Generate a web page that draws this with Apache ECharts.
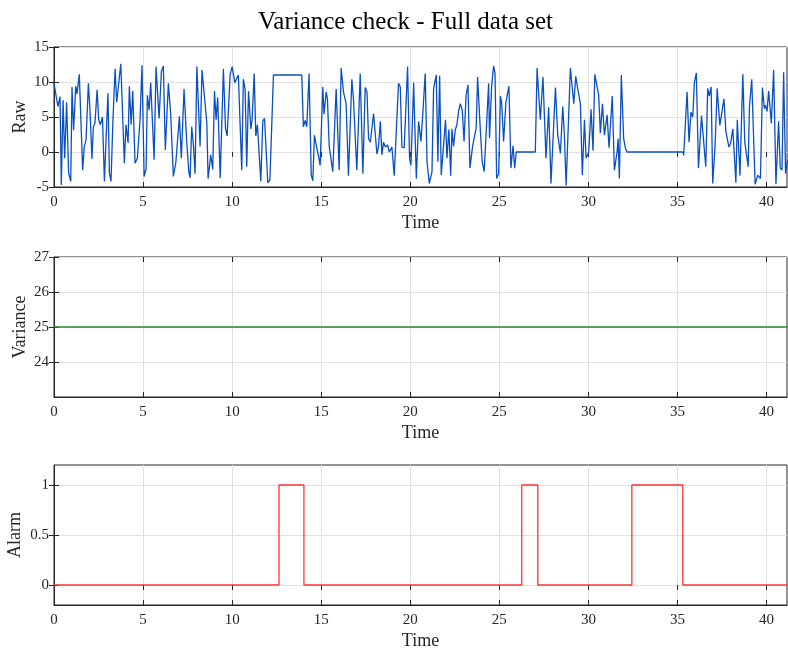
<!DOCTYPE html>
<html>
<head>
<meta charset="utf-8">
<script src="https://cdn.jsdelivr.net/npm/echarts@6.0.0/dist/echarts.min.js"></script>
<style>
  html, body { margin: 0; padding: 0; background: #fff; }
  #chart { width: 788px; height: 653px; }
</style>
</head>
<body>
<div id="chart"></div>
<script>
// raw signal (time, value)
const rawTime = [
  0.00, 0.11, 0.22, 0.34, 0.41, 0.51, 0.60, 0.71, 0.82, 0.94, 1.01, 1.10, 1.22, 1.29, 1.42, 1.61, 1.70, 1.80, 1.93, 2.02,
  2.13, 2.21, 2.30, 2.42, 2.51, 2.60, 2.72, 2.83, 2.92, 3.03, 3.11, 3.20, 3.31, 3.43, 3.52, 3.75, 3.84, 3.95, 4.04, 4.16,
  4.23, 4.33, 4.42, 4.55, 4.68, 4.83, 4.94, 5.06, 5.17, 5.24, 5.34, 5.43, 5.62, 5.73, 5.90, 6.03, 6.14, 6.25, 6.42, 6.55,
  6.70, 6.84, 6.95, 7.04, 7.15, 7.30, 7.45, 7.57, 7.64, 7.73, 7.83, 7.92, 8.02, 8.20, 8.31, 8.58, 8.65, 8.80, 8.91, 9.01,
  9.10, 9.19, 9.33, 9.51, 9.63, 9.72, 9.89, 10.00, 10.15, 10.26, 10.35, 10.54, 10.63, 10.73, 10.82, 10.92, 11.05, 11.12, 11.24, 11.33,
  11.42, 11.61, 11.72, 11.82, 12.00, 12.12, 12.32, 13.91, 14.00, 14.10, 14.19, 14.32, 14.44, 14.53, 14.62, 14.72, 14.85, 14.94, 15.09, 15.16,
  15.28, 15.35, 15.45, 15.54, 15.65, 15.84, 16.01, 16.12, 16.25, 16.40, 16.53, 16.72, 16.81, 16.91, 17.00, 17.19, 17.34, 17.47, 17.57, 17.66,
  17.76, 17.94, 18.13, 18.22, 18.32, 18.41, 18.50, 18.60, 18.73, 18.82, 18.97, 19.10, 19.34, 19.44, 19.53, 19.66, 19.76, 19.85, 19.96, 20.04,
  20.19, 20.34, 20.47, 20.60, 20.71, 20.84, 20.94, 21.07, 21.22, 21.31, 21.41, 21.46, 21.55, 21.65, 21.74, 21.98, 22.06, 22.17, 22.27, 22.34,
  22.43, 22.53, 22.62, 22.71, 22.81, 22.92, 23.02, 23.13, 23.24, 23.35, 23.50, 23.59, 23.70, 23.78, 23.93, 24.04, 24.15, 24.40, 24.45, 24.57,
  24.68, 24.76, 24.85, 24.96, 25.06, 25.13, 25.24, 25.37, 25.54, 25.65, 25.77, 25.86, 25.95, 27.02, 27.12, 27.30, 27.45, 27.62, 27.77, 27.90,
  27.98, 28.15, 28.28, 28.43, 28.56, 28.65, 28.75, 28.99, 29.08, 29.18, 29.29, 29.40, 29.55, 29.66, 29.78, 29.87, 30.02, 30.15, 30.26, 30.36,
  30.45, 30.58, 30.67, 30.79, 30.90, 31.05, 31.16, 31.23, 31.34, 31.46, 31.61, 31.67, 31.74, 31.85, 31.98, 32.08, 32.17, 35.32, 35.35, 35.54,
  35.65, 35.76, 35.86, 35.95, 36.06, 36.18, 36.35, 36.59, 36.70, 36.79, 36.89, 36.98, 37.11, 37.23, 37.38, 37.46, 37.61, 37.72, 37.89, 37.98,
  38.11, 38.21, 38.28, 38.36, 38.51, 38.67, 38.78, 38.97, 39.04, 39.17, 39.36, 39.51, 39.66, 39.77, 39.88, 39.94, 40.03, 40.12, 40.27, 40.40,
  40.53, 40.68, 40.77, 40.87, 40.96, 41.07, 41.18
];
const rawValue = [
  9.8, 10.0, 6.5, 7.9, -4.7, 7.4, -0.9, 7.1, -3.0, -4.2, 9.3, 3.1, 9.4, 8.3, 11.1, -2.6, 0.8, 1.7, 9.8, 6.0,
  -1.0, 3.6, 4.1, 8.9, 4.6, 3.9, 5.0, -4.2, 1.7, 8.4, -3.0, -4.2, 4.6, 11.9, 7.1, 12.6, 12.4, -1.6, 3.9, 1.3,
  9.4, 3.9, 8.7, -1.6, -0.9, 4.6, 12.4, -3.5, -2.4, 8.1, 6.0, 9.9, -1.1, 12.2, 4.8, 11.5, 12.3, 0.3, 9.8, 5.5,
  -3.5, -1.5, -1.4, 5.1, -0.9, 9.0, 1.5, -2.9, -3.7, 3.6, 0.9, -3.1, 12.2, 0.8, 11.7, 4.1, -3.8, -0.4, -2.5, 8.7,
  4.6, 7.8, -3.7, 11.9, 3.3, 2.3, 11.1, 12.2, 9.9, 9.9, 11.0, -2.6, 10.4, 8.9, -2.1, 8.7, 3.3, 4.6, 11.2, 2.3,
  3.9, -4.2, 4.4, 4.8, -4.4, -4.0, 11.0, 11.0, 3.6, 4.5, 3.6, 11.2, -3.3, -4.1, 2.4, 1.0, -0.6, -1.9, 9.3, 5.4,
  8.6, 7.6, 0.8, 0.8, -2.8, 9.0, -2.6, 12.0, 8.6, 6.9, -3.4, 10.4, 7.6, 7.4, -2.6, 11.2, -3.1, 9.2, 8.6, 1.9,
  1.4, 5.5, -0.3, 0.8, 4.4, -0.4, 1.4, 0.7, 1.0, 0.0, 0.7, -3.4, 9.8, 9.3, 0.7, 0.6, 0.5, 12.2, -0.9, -1.9,
  9.9, -3.8, 4.4, 1.5, 5.7, 11.2, -1.4, -4.5, -2.8, 9.1, 9.1, 11.0, -1.4, 10.9, -3.3, 4.6, -0.9, 3.2, -3.4, 3.3,
  0.8, 3.2, 3.9, 5.8, 6.9, 6.0, 1.5, 8.0, 9.6, -2.3, 0.8, 2.0, 3.4, 10.7, 3.3, -1.4, -2.8, 9.8, 2.0, 9.4,
  12.3, 11.2, -3.8, -3.1, 8.0, 7.1, 1.5, 7.1, 9.4, -2.3, 0.9, -2.3, 0.0, 0.0, 12.0, 4.6, 10.7, -0.9, 6.4, -4.5,
  -4.6, 9.2, 2.4, -0.2, 6.5, 2.6, -4.8, 12.0, 12.0, 6.9, 10.8, 9.1, 6.9, -3.3, 4.6, -0.9, 0.0, 6.1, 0.2, 11.1,
  11.2, 8.1, 2.7, 6.9, 2.4, 5.3, 0.6, 0.5, 8.0, -2.6, 0.0, 1.9, -3.8, 11.0, 1.9, 0.5, 0.0, 0.0, -0.5, 8.6,
  1.4, 5.7, 5.0, 9.9, 11.3, -2.3, 5.2, -2.1, 9.1, 8.0, 9.3, -4.5, 0.8, 9.1, 3.8, 3.9, 7.6, 2.9, 0.7, 1.2,
  3.3, 3.3, -4.4, 4.6, -3.4, 11.1, 1.4, -2.1, 6.4, 10.4, -4.6, -3.3, -3.8, 9.2, 6.2, 6.7, 5.8, 8.7, 4.1, 11.7,
  -4.6, 4.4, -2.3, -2.6, 11.4, -3.1, -1.2
];

// variance (flat)
const varTime = [0, 41.2];
const varValue = [25, 25];

// alarm state, holds until next time
const alarmTime = [0, 12.63, 14.03, 26.26, 27.16, 32.44, 35.30, 41.2];
const alarmValue = [0, 1, 0, 1, 0, 1, 0, 0];

const xTicks = [0, 5, 10, 15, 20, 25, 30, 35, 40];
const rawTicks = [-5, 0, 5, 10, 15];
const varTicks = [24, 25, 26, 27];
const alarmTicks = [0, 0.5, 1];

const FONT = "Liberation Serif";
const INK = "#262626";
const X_MAX = 41.15;

const grids = [0, 1, 2].map((i) => ({
  left: 54,
  top: [47, 257, 465][i],
  width: 733,
  height: 140,
  show: true,
  borderColor: INK,
  borderWidth: 1,
  outerBoundsMode: "none",
  containLabel: false,
}));

const xAxes = [];
const yAxes = [];

function addAxes(gi, yMin, yMax, yTicks, yName, nameGap) {
  xAxes.push({
    type: "value", gridIndex: gi, min: 0, max: X_MAX,
    name: "Time", nameLocation: "middle", nameGap: 27, nameMoveOverlap: false,
    nameTextStyle: { fontFamily: FONT, fontSize: 18, color: INK },
    axisLine: { show: true, onZero: false, lineStyle: { color: INK } },
    axisTick: { show: true, inside: true, length: 5, customValues: xTicks, lineStyle: { color: INK } },
    axisLabel: { customValues: xTicks, fontFamily: FONT, fontSize: 15, color: INK, margin: 8 },
    splitLine: { show: true, lineStyle: { color: "#e1e1e1" } },
  });
  xAxes.push({
    type: "value", gridIndex: gi, min: 0, max: X_MAX, position: "top",
    axisLine: { show: false },
    axisTick: { show: true, inside: true, length: 5, customValues: xTicks, lineStyle: { color: INK } },
    axisLabel: { show: false },
    splitLine: { show: false },
  });
  yAxes.push({
    type: "value", gridIndex: gi, min: yMin, max: yMax,
    name: yName, nameLocation: "middle", nameGap: nameGap, nameRotate: 90, nameMoveOverlap: false,
    nameTextStyle: { fontFamily: FONT, fontSize: 18, color: INK },
    axisLine: { show: true, onZero: false, lineStyle: { color: INK } },
    axisTick: { show: true, inside: true, length: 5, customValues: yTicks, lineStyle: { color: INK } },
    axisLabel: { customValues: yTicks, fontFamily: FONT, fontSize: 15, color: INK, margin: 5 },
    splitLine: { show: true, lineStyle: { color: "#e1e1e1" } },
  });
  yAxes.push({
    type: "value", gridIndex: gi, min: yMin, max: yMax, position: "right",
    axisLine: { show: false },
    axisTick: { show: true, inside: true, length: 5, customValues: yTicks, lineStyle: { color: INK } },
    axisLabel: { show: false },
    splitLine: { show: false },
  });
}

addAxes(0, -5, 15, rawTicks, "Raw", 25);
addAxes(1, 23, 27, varTicks, "Variance", 25);
addAxes(2, -0.2, 1.2, alarmTicks, "Alarm", 30);

function pairs(xs, ys) {
  return xs.map((x, i) => [x, ys[i]]);
}

const chartInstance = echarts.init(document.getElementById("chart"), null, { renderer: "canvas" });
chartInstance.setOption({
  animation: false,
  backgroundColor: "#ffffff",
  title: {
    text: "Variance check - Full data set",
    left: 253,
    top: 5,
    textStyle: { fontFamily: FONT, fontSize: 25, fontWeight: "normal", color: "#000" },
  },
  grid: grids,
  xAxis: xAxes,
  yAxis: yAxes,
  series: [
    {
      type: "line", xAxisIndex: 0, yAxisIndex: 0, showSymbol: false,
      data: pairs(rawTime, rawValue),
      lineStyle: { color: "#0a50c0", width: 1.3 },
      clip: true,
    },
    {
      type: "line", xAxisIndex: 2, yAxisIndex: 2, showSymbol: false,
      data: pairs(varTime, varValue),
      lineStyle: { color: "#2a8a2a", width: 1.3 },
      clip: true,
    },
    {
      type: "line", xAxisIndex: 4, yAxisIndex: 4, showSymbol: false, step: "end",
      data: pairs(alarmTime, alarmValue),
      lineStyle: { color: "#ff3333", width: 1.3 },
      clip: true,
    },
  ],
});
</script>
</body>
</html>
